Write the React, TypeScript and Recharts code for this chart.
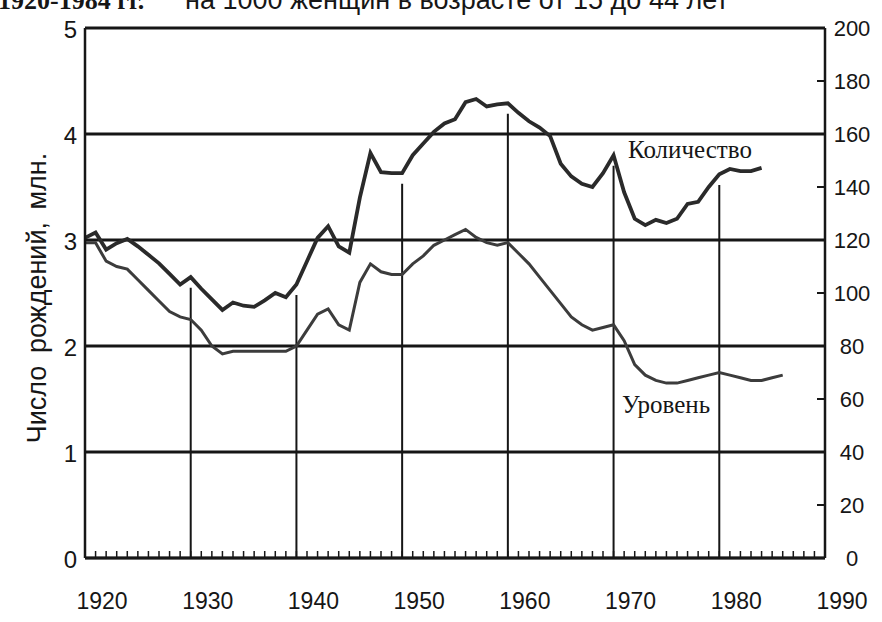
import { LineChart, Line, XAxis, YAxis, CartesianGrid, ReferenceLine } from 'recharts'

// Количество рождений, млн.
const countYears = [
  1920, 1921, 1922, 1923, 1924, 1925, 1926, 1927, 1928, 1929,
  1930, 1931, 1932, 1933, 1934, 1935, 1936, 1937, 1938, 1939,
  1940, 1941, 1942, 1943, 1944, 1945, 1946, 1947, 1948, 1949,
  1950, 1951, 1952, 1953, 1954, 1955, 1956, 1957, 1958, 1959,
  1960, 1961, 1962, 1963, 1964, 1965, 1966, 1967, 1968, 1969,
  1970, 1971, 1972, 1973, 1974, 1975, 1976, 1977, 1978, 1979,
  1980, 1981, 1982, 1983, 1984,
]
const countValues = [
  3.02, 3.07, 2.91, 2.97, 3.01, 2.94, 2.86, 2.78, 2.68, 2.58,
  2.65, 2.54, 2.44, 2.34, 2.41, 2.38, 2.37, 2.43, 2.5, 2.46,
  2.58, 2.8, 3.02, 3.13, 2.94, 2.88, 3.4, 3.82, 3.64, 3.63,
  3.63, 3.8, 3.91, 4.02, 4.1, 4.14, 4.3, 4.33, 4.26, 4.28,
  4.29, 4.2, 4.12, 4.06, 3.98, 3.72, 3.6, 3.53, 3.5, 3.63,
  3.8, 3.45, 3.2, 3.14, 3.19, 3.16, 3.2, 3.34, 3.36, 3.5,
  3.62, 3.67, 3.65, 3.65, 3.68,
]

// Уровень рождаемости на 1000 женщин 15-44 лет
const rateYears = [
  1920, 1921, 1922, 1923, 1924, 1925, 1926, 1927, 1928, 1929,
  1930, 1931, 1932, 1933, 1934, 1935, 1936, 1937, 1938, 1939,
  1940, 1941, 1942, 1943, 1944, 1945, 1946, 1947, 1948, 1949,
  1950, 1951, 1952, 1953, 1954, 1955, 1956, 1957, 1958, 1959,
  1960, 1961, 1962, 1963, 1964, 1965, 1966, 1967, 1968, 1969,
  1970, 1971, 1972, 1973, 1974, 1975, 1976, 1977, 1978, 1979,
  1980, 1981, 1982, 1983, 1984, 1985, 1986,
]
const rateValues = [
  119, 119, 112, 110, 109, 105, 101, 97, 93, 91,
  90, 86, 80, 77, 78, 78, 78, 78, 78, 78,
  80, 86, 92, 94, 88, 86, 104, 111, 108, 107,
  107, 111, 114, 118, 120, 122, 124, 121, 119, 118,
  119, 115, 111, 106, 101, 96, 91, 88, 86, 87,
  88, 82, 73, 69, 67, 66, 66, 67, 68, 69,
  70, 69, 68, 67, 67, 68, 69,
]

const yearTicks = [
  1920, 1921, 1922, 1923, 1924, 1925, 1926, 1927, 1928, 1929,
  1930, 1931, 1932, 1933, 1934, 1935, 1936, 1937, 1938, 1939,
  1940, 1941, 1942, 1943, 1944, 1945, 1946, 1947, 1948, 1949,
  1950, 1951, 1952, 1953, 1954, 1955, 1956, 1957, 1958, 1959,
  1960, 1961, 1962, 1963, 1964, 1965, 1966, 1967, 1968, 1969,
  1970, 1971, 1972, 1973, 1974, 1975, 1976, 1977, 1978, 1979,
  1980, 1981, 1982, 1983, 1984, 1985, 1986, 1987, 1988, 1989, 1990,
]
const decadeLines = [1930, 1940, 1950, 1960, 1970, 1980]
const leftTicks = [0, 1, 2, 3, 4, 5]
const rightTicks = [0, 20, 40, 60, 80, 100, 120, 140, 160, 180, 200]

const countData = countYears.map((year, i) => ({ year, count: countValues[i] }))
const rateData = rateYears.map((year, i) => ({ year, rate: rateValues[i] }))

const countAt = (year: number) => countValues[countYears.indexOf(year)]

const INK = '#161616'
const SANS = '"Liberation Sans", Arial, sans-serif'
const SERIF = '"Liberation Serif", "Times New Roman", serif'

function YearTick({ x, y, payload }: any) {
  if (payload.value % 10 !== 0) return <g />
  return (
    <text x={x + 17} y={y + 58} textAnchor="middle" fontSize={23} fontFamily={SANS} fill={INK}>
      {payload.value}
    </text>
  )
}

function LeftTick({ x, y, payload }: any) {
  return (
    <text x={x} y={y} dy="0.42em" textAnchor="end" fontSize={24} fontFamily={SANS} fill={INK}>
      {payload.value}
    </text>
  )
}

function RightTick({ x, y, payload }: any) {
  return (
    <text x={x + 35} y={y} dy="0.36em" textAnchor="middle" fontSize={22} fontFamily={SANS} fill={INK}>
      {payload.value}
    </text>
  )
}

export default function App() {
  return (
    <div style={{ position: 'absolute', left: 0, top: 0, width: 882, height: 622, background: '#fff', overflow: 'hidden' }}>
      <LineChart width={882} height={622} margin={{ top: 28, right: 57, bottom: 64, left: 0 }}>
        <CartesianGrid xAxisId="x" yAxisId="left" vertical={false} stroke={INK} strokeWidth={2.8} />
        <XAxis
          xAxisId="x"
          dataKey="year"
          type="number"
          domain={[1920, 1990]}
          ticks={yearTicks}
          interval={0}
          mirror
          tickSize={7}
          tickMargin={0}
          tick={<YearTick />}
          tickLine={{ stroke: INK, strokeWidth: 1.5 }}
          axisLine={{ stroke: INK, strokeWidth: 2.5 }}
        />
        <YAxis
          yAxisId="left"
          width={85}
          domain={[0, 5]}
          ticks={leftTicks}
          interval={0}
          tickSize={0}
          tickMargin={8}
          tickLine={false}
          axisLine={{ stroke: INK, strokeWidth: 2.5 }}
          tick={<LeftTick />}
        />
        <YAxis
          yAxisId="right"
          orientation="right"
          mirror
          domain={[0, 200]}
          ticks={rightTicks}
          interval={0}
          tickSize={8}
          tickMargin={0}
          tick={<RightTick />}
          tickLine={{ stroke: INK, strokeWidth: 2 }}
          axisLine={{ stroke: INK, strokeWidth: 2.5 }}
        />
        {decadeLines.map((yr) => (
          <ReferenceLine
            key={yr}
            xAxisId="x"
            yAxisId="left"
            segment={[{ x: yr, y: 0 }, { x: yr, y: countAt(yr) - 0.1 }]}
            stroke={INK}
            strokeWidth={2}
          />
        ))}
        <Line
          xAxisId="x"
          yAxisId="left"
          data={countData}
          dataKey="count"
          type="linear"
          stroke="#2a2a2a"
          strokeWidth={3.8}
          dot={false}
          isAnimationActive={false}
        />
        <Line
          xAxisId="x"
          yAxisId="right"
          data={rateData}
          dataKey="rate"
          type="linear"
          stroke="#3c3c3c"
          strokeWidth={3}
          dot={false}
          isAnimationActive={false}
        />
      </LineChart>
      <svg width={882} height={622} style={{ position: 'absolute', left: 0, top: 0, pointerEvents: 'none' }}>
        <text x={-2} y={9} fontFamily={SERIF} fontWeight="bold" fontSize={26} fill={INK}>
          1920-1984 гг.
        </text>
        <text x={185} y={9} fontFamily={SANS} fontSize={27} fill={INK}>
          на 1000 женщин в возрасте от 15 до 44 лет
        </text>
        <text transform="translate(46,298) rotate(-90)" textAnchor="middle" fontFamily={SANS} fontSize={27} wordSpacing={5} fill={INK}>
          Число рождений, млн.
        </text>
        <text x={628} y={158} fontFamily={SERIF} fontSize={25} fill={INK}>
          Количество
        </text>
        <text x={622} y={413} fontFamily={SERIF} fontSize={25} fill={INK}>
          Уровень
        </text>
      </svg>
    </div>
  )
}
